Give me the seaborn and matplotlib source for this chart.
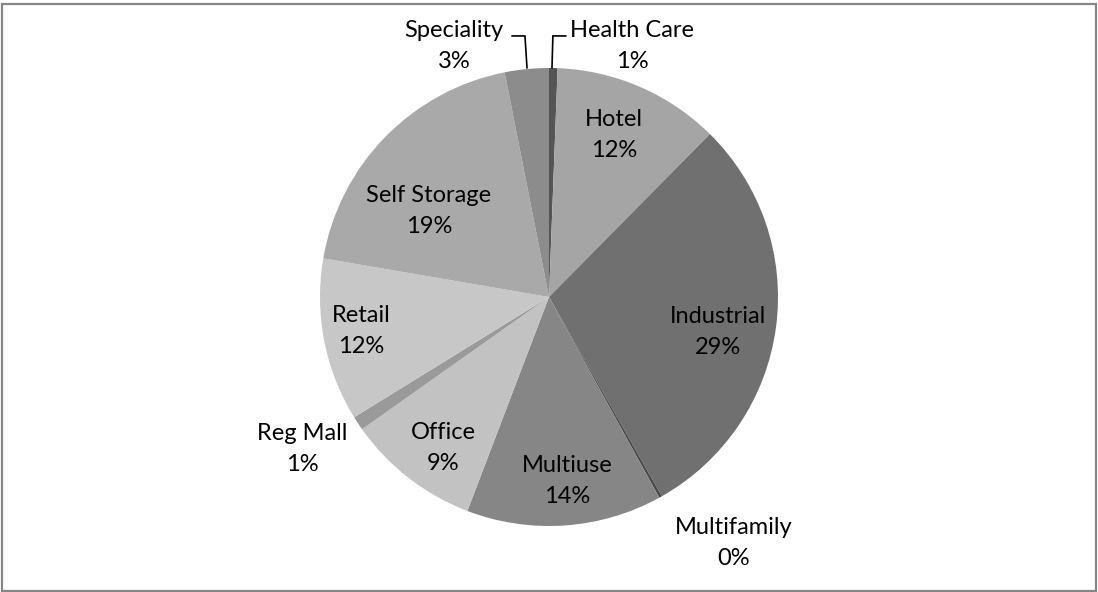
import numpy as np
import matplotlib
matplotlib.use("Agg")
import matplotlib.pyplot as plt
from matplotlib.patches import Rectangle
import seaborn as sns

categories = ["Health Care", "Hotel", "Industrial", "Multifamily", "Multiuse",
              "Office", "Reg Mall", "Retail", "Self Storage", "Speciality"]
shares = [0.6, 11.8, 29.4, 0.2, 13.8, 9.4, 1.0, 11.5, 19.2, 3.1]
slice_colors = ["#555555", "#a5a5a5", "#707070", "#4a4a4a", "#868686",
                "#c2c2c2", "#9a9a9a", "#c7c7c7", "#a9a9a9", "#8c8c8c"]

sns.set_theme(style="white")
plt.rcParams['font.family'] = ['Lato', 'DejaVu Sans']

W, H = 1098, 592
fig = plt.figure(figsize=(W / 100, H / 100), dpi=100)
ax = fig.add_axes([0, 0, 1, 1])

total = sum(shares)
labels = [f"{c}\n{v / total * 100:.0f}%" for c, v in zip(categories, shares)]
palette = sns.color_palette(slice_colors)

wedges, texts = ax.pie(shares, labels=labels, colors=palette, startangle=90,
                       counterclock=False, labeldistance=0.76,
                       wedgeprops=dict(linewidth=0),
                       textprops=dict(fontsize=17, color="black",
                                      ha="center", va="center",
                                      linespacing=1.58))

# label placement (in pie-radius units), like the Excel data labels
label_pos = {"Health Care": (0.362, 1.096), "Hotel": (0.284, 0.707),
             "Industrial": (0.738, -0.153), "Multifamily": (0.808, -1.074),
             "Multiuse": (0.079, -0.803), "Office": (-0.463, -0.659),
             "Reg Mall": (-1.079, -0.664), "Retail": (-0.821, -0.148),
             "Self Storage": (-0.525, 0.376), "Speciality": (-0.415, 1.096)}
for t, c in zip(texts, categories):
    t.set_ha("center")
    t.set_va("center")
    t.set_position(label_pos[c])

# leader lines
ax.plot([-0.162, -0.105, -0.096], [1.14, 1.14, 1.0], color="black", lw=1.2,
        solid_joinstyle="miter")
ax.plot([0.074, 0.017, 0.013], [1.14, 1.14, 1.0], color="black", lw=1.2,
        solid_joinstyle="miter")

r = 229.0
cx, cy = 549.0, 592 - 297.0
ax.set_xlim(-cx / r, (W - cx) / r)
ax.set_ylim(-cy / r, (H - cy) / r)
ax.set_aspect("auto")
ax.axis("off")

fig.patches.append(Rectangle((0.0015, 0.002), 0.997, 0.991, transform=fig.transFigure,
                             fill=False, edgecolor="#868686", linewidth=1.6))

fig.savefig("out.png", dpi=100, facecolor="white")
